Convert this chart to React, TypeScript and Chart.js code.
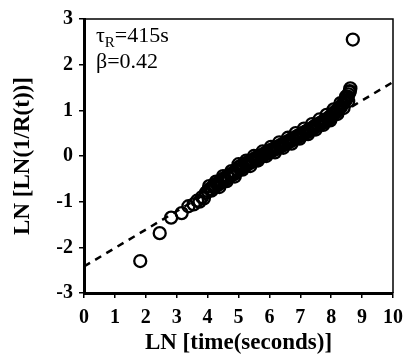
import React, { useEffect, useRef } from "react";
import { Chart, registerables } from "chart.js";

Chart.register(...registerables);

const xTicks = [0, 1, 2, 3, 4, 5, 6, 7, 8, 9, 10];
const yTicks = [-3, -2, -1, 0, 1, 2, 3];

const lnTime = [
  1.82, 2.45, 2.82, 3.16, 3.38, 3.55, 3.66, 3.74, 3.82, 3.88, 3.95, 4.01, 4.07, 4.12, 4.18, 4.24,
  4.3, 4.35, 4.41, 4.47, 4.52, 4.58, 4.63, 4.69, 4.74, 4.8, 4.85, 4.9, 4.96, 5.01, 5.06, 5.11,
  5.16, 5.21, 5.26, 5.31, 5.36, 5.41, 5.46, 5.51, 5.56, 5.61, 5.66, 5.71, 5.75, 5.8, 5.85, 5.89,
  5.94, 5.98, 6.03, 6.07, 6.12, 6.16, 6.21, 6.25, 6.29, 6.34, 6.38, 6.42, 6.46, 6.5, 6.55, 6.59,
  6.63, 6.67, 6.71, 6.75, 6.79, 6.83, 6.87, 6.91, 6.95, 6.99, 7.03, 7.07, 7.11, 7.15, 7.19, 7.23,
  7.27, 7.31, 7.35, 7.39, 7.43, 7.47, 7.51, 7.55, 7.59, 7.63, 7.67, 7.71, 7.75, 7.79, 7.83, 7.87,
  7.91, 7.95, 7.99, 8.03, 8.07, 8.11, 8.15, 8.19, 8.23, 8.27, 8.31, 8.35, 8.39, 8.43, 8.47, 8.5,
  8.53, 8.56, 8.59, 8.62, 8.7,
];

const lnLnInvR = [
  -2.3, -1.69, -1.35, -1.25, -1.1, -1.06, -0.98, -1.0, -0.9, -0.93, -0.8, -0.77, -0.72, -0.76, -0.66, -0.68,
  -0.6, -0.63, -0.55, -0.57, -0.49, -0.52, -0.44, -0.47, -0.4, -0.42, -0.35, -0.38, -0.3, -0.24, -0.29, -0.2,
  -0.24, -0.17, -0.2, -0.13, -0.16, -0.1, -0.12, -0.06, -0.09, -0.02, -0.04, 0.01, -0.01, 0.04, 0.03, 0.08,
  0.06, 0.11, 0.09, 0.14, 0.12, 0.17, 0.15, 0.2, 0.18, 0.23, 0.21, 0.26, 0.24, 0.29, 0.27, 0.32,
  0.3, 0.35, 0.33, 0.38, 0.36, 0.41, 0.39, 0.44, 0.42, 0.47, 0.45, 0.5, 0.48, 0.53, 0.51, 0.56,
  0.54, 0.59, 0.57, 0.62, 0.6, 0.66, 0.64, 0.69, 0.67, 0.72, 0.7, 0.75, 0.73, 0.78, 0.77, 0.82,
  0.8, 0.86, 0.85, 0.91, 0.9, 0.96, 0.95, 1.01, 1.0, 1.06, 1.07, 1.12, 1.15, 1.19, 1.22, 1.26,
  1.3, 1.35, 1.4, 1.48, 2.55,
];

const lnTimeExtra = [
  4.05, 4.15, 4.27, 4.38, 4.5, 4.62, 4.77, 4.88, 5.0, 5.13, 5.25, 5.38, 5.5, 5.63, 5.78, 5.9,
  6.05, 6.18, 6.32, 6.45, 6.6, 6.72, 6.85, 6.98, 7.12, 7.25, 7.38, 7.5, 7.62, 7.74, 7.85, 7.97,
  8.08, 8.2, 8.3, 8.4, 8.48, 8.55, 8.6,
];

const lnLnInvRExtra = [
  -0.66, -0.74, -0.56, -0.68, -0.44, -0.55, -0.33, -0.45, -0.18, -0.3, -0.1, -0.22, 0.0, -0.1, 0.1, 0.0,
  0.2, 0.08, 0.3, 0.18, 0.4, 0.27, 0.5, 0.38, 0.6, 0.48, 0.7, 0.58, 0.8, 0.68, 0.9, 0.78,
  1.02, 0.92, 1.16, 1.05, 1.3, 1.2, 1.42,
];

const fitX = [0, 10];
const fitY = [-2.42, 1.62];

const tauLabel = "τ";
const tauSub = "R";
const tauValue = "=415s";
const betaLabel = "β=0.42";

const serif = "'Liberation Serif', 'Times New Roman', serif";

const framePlugin = {
  id: "frameAndText",
  afterDraw(chart: any) {
    const { ctx, chartArea } = chart;
    ctx.save();
    ctx.strokeStyle = "#000";
    ctx.lineWidth = 1.5;
    ctx.beginPath();
    ctx.moveTo(chartArea.left, chartArea.top);
    ctx.lineTo(chartArea.right, chartArea.top);
    ctx.lineTo(chartArea.right, chartArea.bottom);
    ctx.stroke();
    ctx.fillStyle = "#000";
    ctx.textBaseline = "alphabetic";
    ctx.textAlign = "left";
    const x0 = chartArea.left + 12;
    ctx.font = `22px ${serif}`;
    ctx.fillText(tauLabel, x0, 42);
    const w1 = ctx.measureText(tauLabel).width;
    ctx.font = `15px ${serif}`;
    ctx.fillText(tauSub, x0 + w1, 47);
    const w2 = ctx.measureText(tauSub).width;
    ctx.font = `22px ${serif}`;
    ctx.fillText(tauValue, x0 + w1 + w2, 42);
    ctx.fillText(betaLabel, x0, 68);
    ctx.restore();
  },
};

export default function App() {
  const ref = useRef<HTMLCanvasElement>(null);
  useEffect(() => {
    if (!ref.current) return;
    const points = lnTime.map((x, i) => ({ x, y: lnLnInvR[i] }));
    const extra = lnTimeExtra.map((x, i) => ({ x, y: lnLnInvRExtra[i] }));
    const fit = fitX.map((x, i) => ({ x, y: fitY[i] }));
    const pointStyleOpts = {
      pointStyle: "circle",
      pointRadius: 6,
      pointBorderWidth: 2.3,
      borderColor: "#000",
      backgroundColor: "rgba(0,0,0,0)",
    };
    const chart = new Chart(ref.current, {
      type: "scatter",
      data: {
        datasets: [
          { type: "scatter", data: points, ...pointStyleOpts, order: 1 } as any,
          { type: "scatter", data: extra, ...pointStyleOpts, order: 1 } as any,
          {
            type: "line",
            data: fit,
            borderColor: "#000",
            borderWidth: 2.5,
            borderDash: [7, 6],
            pointRadius: 0,
            fill: false,
            order: 2,
          } as any,
        ],
      },
      options: {
        responsive: false,
        animation: false,
        layout: { padding: { top: 19, right: 10, left: 0, bottom: 0 } },
        plugins: { legend: { display: false }, tooltip: { enabled: false } },
        scales: {
          x: {
            type: "linear",
            min: 0,
            max: 10,
            afterBuildTicks: (s: any) => {
              s.ticks = xTicks.map((v) => ({ value: v }));
            },
            afterFit: (s: any) => {
              s.height = 64;
            },
            ticks: {
              color: "#000",
              font: { family: serif, size: 20, weight: "bold" },
              padding: 8,
              maxRotation: 0,
              autoSkip: false,
            },
            grid: { drawOnChartArea: false, drawTicks: true, tickLength: 5, color: "#000", lineWidth: 1.5 },
            border: { color: "#000", width: 3 },
            title: {
              display: true,
              text: "LN [time(seconds)]",
              color: "#000",
              font: { family: serif, size: 23, weight: "bold" },
              padding: { top: 0, bottom: 0 },
            },
          },
          y: {
            type: "linear",
            min: -3,
            max: 3,
            afterBuildTicks: (s: any) => {
              s.ticks = yTicks.map((v) => ({ value: v }));
            },
            afterFit: (s: any) => {
              s.width = 84;
            },
            ticks: {
              color: "#000",
              font: { family: serif, size: 20, weight: "bold" },
              padding: 6,
              autoSkip: false,
            },
            grid: { drawOnChartArea: false, drawTicks: true, tickLength: 5, color: "#000", lineWidth: 1.5 },
            border: { color: "#000", width: 3 },
            title: {
              display: true,
              text: "LN [LN(1/R(t))]",
              color: "#000",
              font: { family: serif, size: 23, weight: "bold" },
              padding: { top: 9, bottom: 0 },
            },
          },
        },
      },
      plugins: [framePlugin],
    });
    return () => chart.destroy();
  }, []);
  return (
    <div style={{ position: "absolute", left: 0, top: 0, width: 411, height: 357, background: "#fff" }}>
      <canvas ref={ref} width={411} height={357} />
    </div>
  );
}
